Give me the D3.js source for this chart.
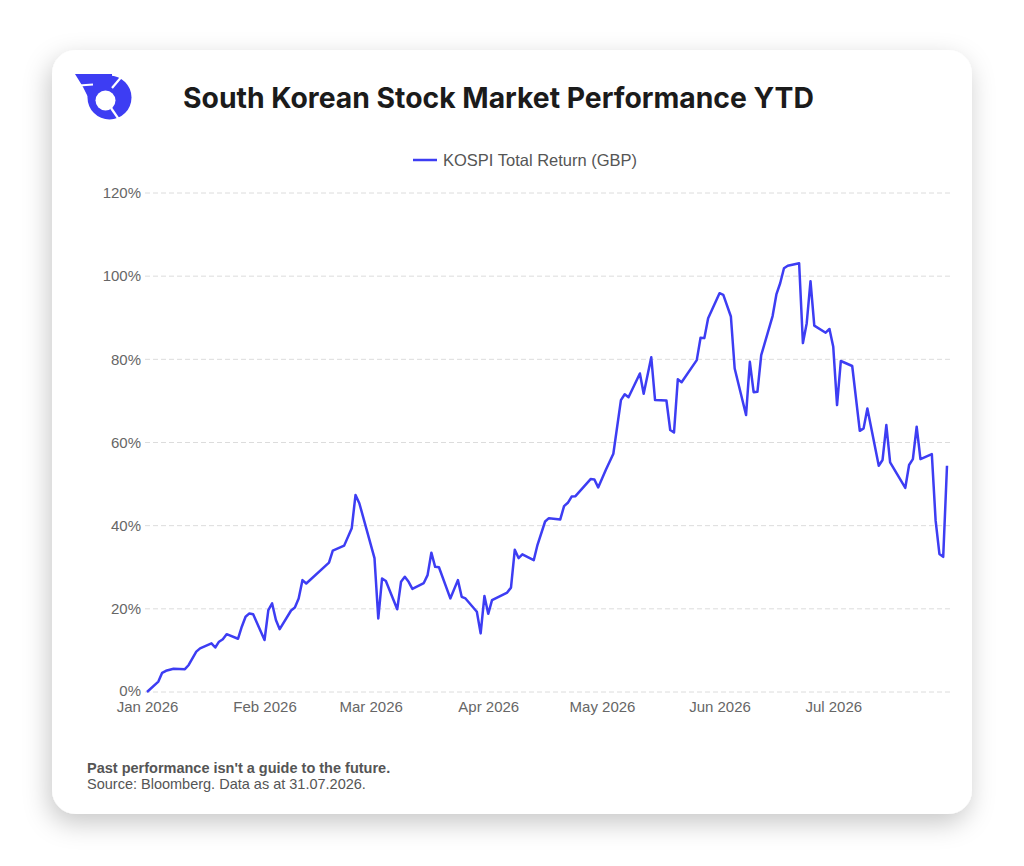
<!DOCTYPE html>
<html>
<head>
<meta charset="utf-8">
<script src="https://cdn.jsdelivr.net/npm/d3@7"></script>
<style>
  body { margin: 0; background: #fff; }
  svg { display: block; }
</style>
</head>
<body>
<div id="chart"></div>
<script>
// KOSPI total return in GBP, % since start of year
var dates = [
  "2026-01-01","2026-01-04","2026-01-05","2026-01-06","2026-01-08","2026-01-11","2026-01-12","2026-01-14",
  "2026-01-15","2026-01-18","2026-01-19","2026-01-20","2026-01-21","2026-01-22","2026-01-25","2026-01-26",
  "2026-01-27","2026-01-28","2026-01-29","2026-02-01","2026-02-02","2026-02-03","2026-02-04","2026-02-05",
  "2026-02-08","2026-02-09","2026-02-10","2026-02-11","2026-02-12","2026-02-18","2026-02-19","2026-02-22",
  "2026-02-24","2026-02-25","2026-02-26","2026-03-02","2026-03-03","2026-03-04","2026-03-05","2026-03-08",
  "2026-03-09","2026-03-10","2026-03-11","2026-03-12","2026-03-15","2026-03-16","2026-03-17","2026-03-18",
  "2026-03-19","2026-03-22","2026-03-24","2026-03-25","2026-03-26","2026-03-29","2026-03-30","2026-03-31",
  "2026-04-01","2026-04-02","2026-04-06","2026-04-07","2026-04-08","2026-04-09","2026-04-10","2026-04-13",
  "2026-04-14","2026-04-16","2026-04-17","2026-04-20","2026-04-21","2026-04-22","2026-04-23","2026-04-24",
  "2026-04-28","2026-04-29","2026-04-30","2026-05-02","2026-05-04","2026-05-06","2026-05-07","2026-05-08",
  "2026-05-11","2026-05-12","2026-05-14","2026-05-15","2026-05-18","2026-05-19","2026-05-20","2026-05-21",
  "2026-05-22","2026-05-26","2026-05-27","2026-05-28","2026-05-29","2026-06-01","2026-06-02","2026-06-04",
  "2026-06-05","2026-06-08","2026-06-09","2026-06-10","2026-06-11","2026-06-12","2026-06-15","2026-06-16",
  "2026-06-17","2026-06-18","2026-06-19","2026-06-22","2026-06-23","2026-06-24","2026-06-25","2026-06-26",
  "2026-06-29","2026-06-30","2026-07-01","2026-07-02","2026-07-03","2026-07-06","2026-07-08","2026-07-09",
  "2026-07-10","2026-07-13","2026-07-14","2026-07-15","2026-07-16","2026-07-20","2026-07-21","2026-07-22",
  "2026-07-23","2026-07-24","2026-07-27","2026-07-28","2026-07-29","2026-07-30","2026-07-31"
];
var kospi = [
  0.0, 2.5, 4.6, 5.1, 5.6, 5.5, 6.5, 9.7,
  10.5, 11.7, 10.7, 12.1, 12.7, 13.9, 12.8, 15.7,
  18.1, 18.9, 18.7, 12.5, 19.7, 21.3, 17.3, 15.1,
  19.6, 20.3, 22.5, 26.9, 26.1, 31.1, 34.0, 35.2,
  39.4, 47.4, 45.4, 32.2, 17.7, 27.3, 26.7, 19.9,
  26.5, 27.7, 26.5, 24.8, 26.2, 28.1, 33.5, 30.1,
  30.0, 22.5, 26.9, 22.9, 22.5, 19.3, 14.1, 23.1,
  18.8, 22.1, 23.9, 25.1, 34.2, 32.2, 33.1, 31.7,
  35.4, 41.0, 41.8, 41.5, 44.7, 45.5, 47.0, 47.1,
  51.2, 51.1, 49.2, 53.4, 57.3, 70.2, 71.6, 70.9,
  76.6, 71.7, 80.5, 70.2, 70.1, 63.0, 62.4, 75.2,
  74.5, 79.8, 85.2, 85.1, 89.9, 95.9, 95.5, 90.3,
  77.8, 66.6, 79.4, 72.1, 72.2, 81.0, 90.4, 95.6,
  98.3, 101.9, 102.5, 103.1, 83.9, 88.7, 98.8, 88.1,
  86.4, 87.3, 83.0, 69.0, 79.6, 78.4, 62.8, 63.4,
  68.2, 54.4, 55.8, 64.2, 55.2, 49.1, 54.6, 56.0,
  63.8, 56.0, 57.2, 41.2, 33.2, 32.5, 54.4
];
var yTicks = [0, 20, 40, 60, 80, 100, 120];
var seriesName = "KOSPI Total Return (GBP)";
var title = "South Korean Stock Market Performance YTD";
var note = "Past performance isn't a guide to the future.";
var source = "Source: Bloomberg. Data as at 31.07.2026.";

var W = 1024, H = 866;
var blue = "#3d3df3";
var labelFont = "'Liberation Sans', Arial, sans-serif";
var parse = d3.timeParse("%Y-%m-%d");
var data = dates.map(function(d, i) { return { date: parse(d), value: kospi[i] }; });

var svg = d3.select("#chart").append("svg")
  .attr("width", W)
  .attr("height", H);

// card with soft shadow
var defs = svg.append("defs");
var f = defs.append("filter").attr("id", "shadow")
  .attr("x", "-15%").attr("y", "-15%").attr("width", "130%").attr("height", "130%");
f.append("feDropShadow")
  .attr("dx", -3).attr("dy", 9)
  .attr("stdDeviation", 13)
  .attr("flood-color", "#000")
  .attr("flood-opacity", 0.22);

svg.append("rect")
  .attr("x", 52).attr("y", 50)
  .attr("width", 920).attr("height", 764)
  .attr("rx", 24)
  .attr("fill", "#fff")
  .attr("filter", "url(#shadow)");

// logo
var logo = svg.append("g");
logo.append("path")
  .attr("d", "M75,74 L112,74 L112,92 L90,101 L83,87 Z")
  .attr("fill", blue);
logo.append("circle")
  .attr("cx", 109.5).attr("cy", 97.5).attr("r", 22)
  .attr("fill", blue);
logo.append("circle")
  .attr("cx", 105.5).attr("cy", 100.5).attr("r", 10)
  .attr("fill", "#fff");
logo.append("line")
  .attr("x1", 112).attr("y1", 88).attr("x2", 123).attr("y2", 75)
  .attr("stroke", "#fff").attr("stroke-width", 2.2);
logo.append("line")
  .attr("x1", 111).attr("y1", 108).attr("x2", 120).attr("y2", 121)
  .attr("stroke", "#fff").attr("stroke-width", 2.2);
logo.append("line")
  .attr("x1", 79).attr("y1", 85.5).attr("x2", 93).attr("y2", 84.5)
  .attr("stroke", "#fff").attr("stroke-width", 1.8);

svg.append("text")
  .attr("x", 183).attr("y", 108)
  .attr("font-family", "Inter, sans-serif")
  .attr("font-weight", 700)
  .attr("font-size", 28.3)
  .attr("fill", "#1b1b1b")
  .text(title);

var x = d3.scaleTime()
  .domain([parse("2026-01-01"), parse("2026-07-31")])
  .range([147, 947]);
var y = d3.scaleLinear()
  .domain([0, 120])
  .range([692, 193]);

// gridlines
svg.append("g")
  .selectAll("line")
  .data(yTicks)
  .enter()
  .append("line")
    .attr("x1", 145).attr("x2", 950)
    .attr("y1", function(d) { return y(d); })
    .attr("y2", function(d) { return y(d); })
    .attr("stroke", "#dcdcdc")
    .attr("stroke-width", 1)
    .attr("stroke-dasharray", "5,3");

// y axis labels
var yAxis = svg.append("g")
  .attr("transform", "translate(145,0)")
  .call(d3.axisLeft(y).tickValues(yTicks).tickSize(0).tickPadding(4)
    .tickFormat(function(d) { return d + "%"; }));
yAxis.select(".domain").remove();
yAxis.selectAll("text")
  .attr("font-family", labelFont)
  .attr("font-size", 15)
  .attr("fill", "#666");
yAxis.selectAll("text").filter(function(d) { return d === 0; })
  .attr("dy", "0.2em");

// x axis labels
var xAxis = svg.append("g")
  .attr("transform", "translate(0,692)")
  .call(d3.axisBottom(x).ticks(d3.timeMonth.every(1)).tickSize(0).tickPadding(9)
    .tickFormat(d3.timeFormat("%b %Y")));
xAxis.select(".domain").remove();
xAxis.selectAll("text")
  .attr("font-family", labelFont)
  .attr("font-size", 15)
  .attr("fill", "#666");

// line
var line = d3.line()
  .x(function(d) { return x(d.date); })
  .y(function(d) { return y(d.value); });
svg.append("path")
  .datum(data)
  .attr("d", line)
  .attr("fill", "none")
  .attr("stroke", blue)
  .attr("stroke-width", 2.5)
  .attr("stroke-linejoin", "round");

// legend
var lg = svg.append("g");
lg.append("line")
  .attr("x1", 413).attr("x2", 437)
  .attr("y1", 160).attr("y2", 160)
  .attr("stroke", blue)
  .attr("stroke-width", 2.5);
lg.append("text")
  .attr("x", 443).attr("y", 166)
  .attr("font-family", labelFont)
  .attr("font-size", 16.5)
  .attr("fill", "#555")
  .text(seriesName);

// footer
svg.append("text")
  .attr("x", 87).attr("y", 773)
  .attr("font-family", labelFont)
  .attr("font-size", 14.5)
  .attr("font-weight", 700)
  .attr("fill", "#555")
  .text(note);
svg.append("text")
  .attr("x", 87).attr("y", 789)
  .attr("font-family", labelFont)
  .attr("font-size", 14.5)
  .attr("fill", "#555")
  .text(source);
</script>
</body>
</html>
